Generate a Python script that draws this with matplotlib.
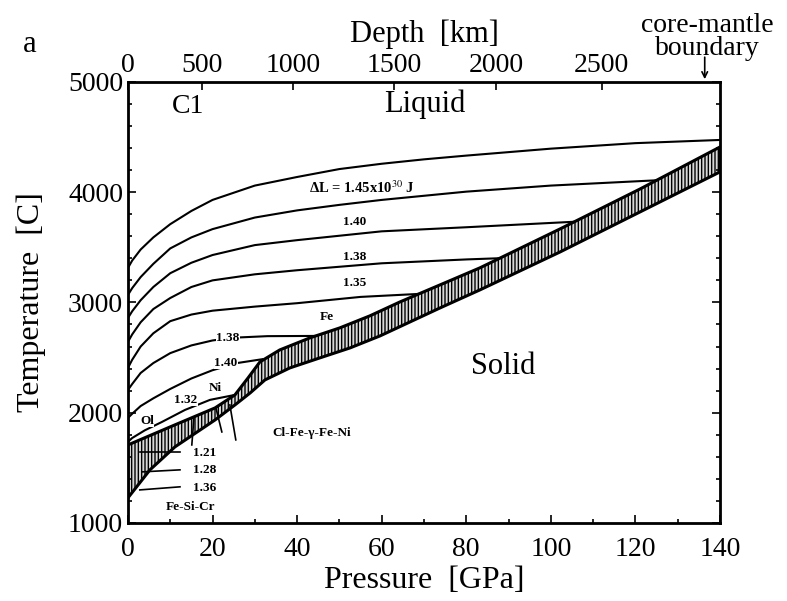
import numpy as np
import matplotlib
matplotlib.use('Agg')
import matplotlib.pyplot as plt

plt.rcParams['font.family'] = ['Liberation Serif', 'DejaVu Serif']
plt.rcParams['mathtext.fontset'] = 'stix'

# melting curves (pressure GPa, temperature C)
c1_p = [0, 1, 3, 6, 10, 15, 20, 30, 40, 50, 60, 70, 80, 100, 120, 140]
c1_t = [3313, 3380, 3480, 3590, 3710, 3830, 3930, 4060, 4138, 4210, 4258, 4298, 4332, 4395, 4445, 4474]
c2_p = [0, 1, 3, 6, 10, 15, 20, 30, 40, 50, 60, 80, 100, 125]
c2_t = [3068, 3130, 3230, 3350, 3490, 3590, 3665, 3770, 3835, 3885, 3930, 4005, 4060, 4108]
c3_p = [0, 1, 3, 6, 10, 15, 20, 30, 40, 50, 60, 80, 105.6]
c3_t = [2859, 2920, 3020, 3140, 3265, 3360, 3430, 3520, 3565, 3605, 3645, 3682, 3732]
c4_p = [0, 1, 3, 6, 10, 15, 20, 30, 40, 60, 80, 87.9]
c4_t = [2642, 2710, 2820, 2940, 3040, 3140, 3200, 3255, 3292, 3355, 3390, 3401]
c5_p = [0, 1, 3, 6, 10, 15, 20, 30, 40, 55, 68.7]
c5_t = [2406, 2480, 2600, 2720, 2830, 2890, 2925, 2962, 2993, 3050, 3077]
c6_p = [0, 1, 3, 6, 10, 15, 20, 25, 33, 44.4]
c6_t = [2206, 2260, 2360, 2450, 2540, 2610, 2655, 2680, 2694, 2696]
c7_p = [0, 1, 3, 6, 10, 15, 20, 26, 31.8]
c7_t = [1952, 1990, 2060, 2130, 2215, 2310, 2385, 2451, 2485]
c8_p = [0, 1, 4, 8, 13.5, 19.4, 25.3]
c8_t = [1735, 1770, 1840, 1915, 2025, 2116, 2161]
curves = [(c1_p, c1_t), (c2_p, c2_t), (c3_p, c3_t), (c4_p, c4_t),
          (c5_p, c5_t), (c6_p, c6_t), (c7_p, c7_t), (c8_p, c8_t)]

# hatched band (solidus region)
band_top_p = [0, 11.1, 20.6, 25.3, 28.4, 31.2, 35.9, 43.0, 50.1, 57.2, 64.3, 73.8, 83.2, 102.2, 121.1, 140]
band_top_t = [1707, 1889, 2043, 2161, 2315, 2460, 2569, 2678, 2769, 2878, 3004, 3159, 3313, 3667, 4029, 4410]
band_bot_p = [0, 5.2, 11.1, 20.6, 25.3, 28.9, 32.4, 38.3, 45.4, 52.5, 59.6, 66.7, 73.8, 83.2, 102.2, 121.1, 140]
band_bot_t = [1227, 1481, 1689, 1934, 2070, 2179, 2297, 2406, 2497, 2587, 2696, 2823, 2950, 3113, 3458, 3821, 4184]

# top axis: depth (km) and where it sits in pressure
depth_km = [0, 500, 1000, 1500, 2000, 2500]
depth_p = [0, 17.5, 39, 63, 87, 112]
cmb_p = 136.4

# small curve labels
lab_text = ['1.40', '1.38', '1.35', 'Fe', '1.38', '1.40', 'Ni', '1.32', 'Ol',
            '1.21', '1.28', '1.36', 'Fe-Si-Cr', 'Cl-Fe-γ-Fe-Ni']
lab_p = [53.7, 53.7, 53.7, 47.1, 23.6, 23.2, 20.6, 13.7, 4.5, 18.2, 18.2, 18.2, 14.7, 43.5]
lab_t = [3730, 3413, 3177, 2868, 2678, 2451, 2224, 2116, 1925, 1635, 1481, 1317, 1145, 1816]

# pointer segments
ptr_p = [(2.8, 12.3), (3.5, 12.3), (2.8, 12.3), (15.1, 15.6), (22.2, 20.8), (25.5, 24.1)]
ptr_t = [(1644, 1644), (1463, 1481), (1299, 1327), (1707, 1952), (1825, 2043), (1753, 2070)]

fig = plt.figure(figsize=(7.87, 6.01), dpi=100)
ax = fig.add_axes([0.1626, 0.130, 0.7522, 0.7336])

for p, t in curves:
    ax.plot(p, t, color='black', lw=1.5)

poly_p = np.concatenate([band_top_p, band_bot_p[::-1]])
poly_t = np.concatenate([band_top_t, band_bot_t[::-1]])
ax.fill(poly_p, poly_t, facecolor='#d8d8d8', edgecolor='black', hatch='|||||', lw=2.2)

for i in range(len(lab_text)):
    ax.text(lab_p[i], lab_t[i], lab_text[i], fontsize=9.5, fontweight='bold',
            ha='center', va='center',
            bbox=dict(facecolor='white', edgecolor='none', pad=0.3))
ax.text(55.3, 4038, 'ΔL = 1.45x10$^{30}$ J', fontsize=10.5, fontweight='bold',
        ha='center', va='center')

for p, t in zip(ptr_p, ptr_t):
    ax.plot(p, t, color='black', lw=1.2)

ax.text(70.2, 4800, 'Liquid', fontsize=22, ha='center', va='center')
ax.text(88.7, 2415, 'Solid', fontsize=22, ha='center', va='center')
ax.text(14.2, 4773, 'C1', fontsize=20, ha='center', va='center')

ax.set_xlim(0, 140)
ax.set_ylim(1000, 5000)
ax.set_xticks(range(0, 141, 20))
ax.set_xticks(range(0, 141, 10), minor=True)
ax.set_yticks(range(1000, 5001, 1000))
ax.set_yticks(range(1000, 5001, 200), minor=True)
ax.tick_params(which='both', direction='in', right=True, labelsize=20, width=1.2)
ax.tick_params(which='major', length=6)
ax.tick_params(which='minor', length=3)
ax.tick_params(axis='x', pad=10)
ax.set_xlabel('Pressure  [GPa]', fontsize=23, labelpad=3)
ax.set_ylabel('Temperature  [C]', fontsize=23, labelpad=16)
for s in ax.spines.values():
    s.set_linewidth(2)

ax2 = ax.twiny()
ax2.set_xlim(0, 140)
ax2.set_xticks(depth_p)
ax2.set_xticklabels([str(d) for d in depth_km])
ax2.tick_params(direction='in', length=6, labelsize=20, width=1.2, pad=3)
ax2.set_xlabel('Depth  [km]', fontsize=22, labelpad=8)

ax.annotate('', xy=(cmb_p, 5000), xytext=(cmb_p, 5250),
            arrowprops=dict(arrowstyle='->', color='black', lw=1.2),
            annotation_clip=False)
fig.text(707 / 787, 1 - 37 / 601, 'core-mantle\nboundary', fontsize=20,
         ha='center', va='center', linespacing=0.85)
fig.text(30 / 787, 1 - 45 / 601, 'a', fontsize=22, ha='center', va='center')

fig.savefig('out.png', dpi=100)
